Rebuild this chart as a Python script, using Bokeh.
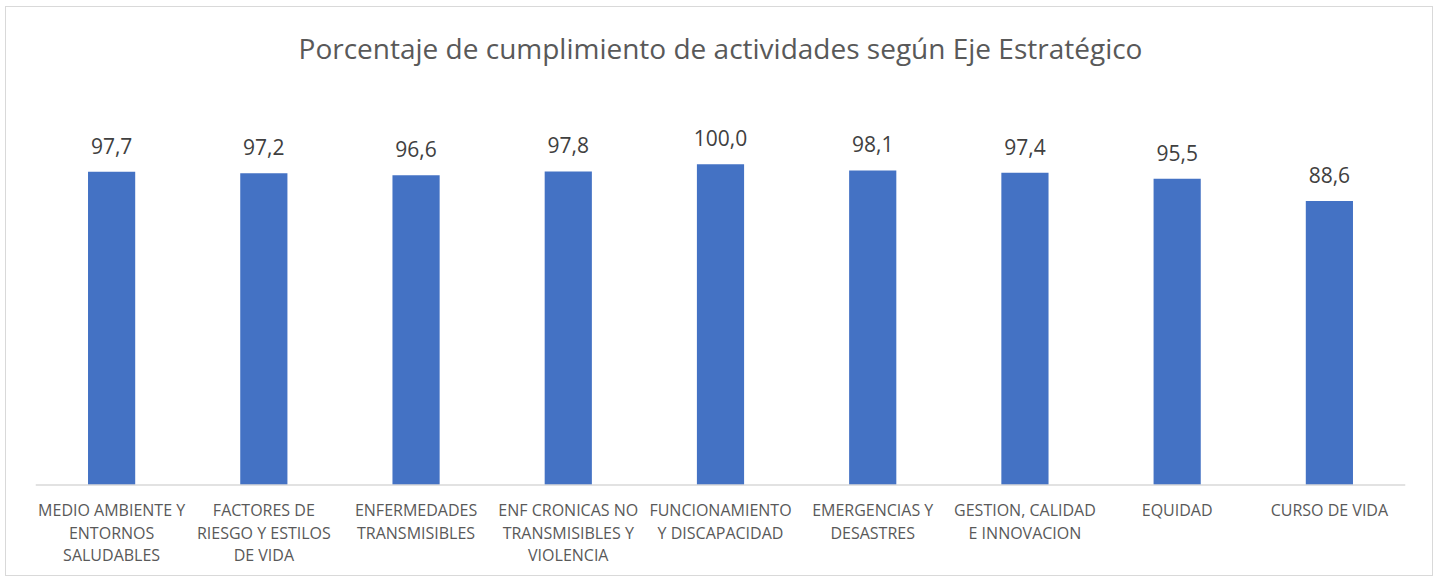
from bokeh.plotting import figure
from bokeh.models import ColumnDataSource, FactorRange, Range1d, Span
from bokeh.core.properties import value
from bokeh.embed import file_html
from bokeh.resources import INLINE

categories = ["MEDIO AMBIENTE Y ENTORNOS SALUDABLES", "FACTORES DE RIESGO Y ESTILOS DE VIDA",
              "ENFERMEDADES TRANSMISIBLES", "ENF CRONICAS NO TRANSMISIBLES Y VIOLENCIA",
              "FUNCIONAMIENTO Y DISCAPACIDAD", "EMERGENCIAS Y DESASTRES",
              "GESTION, CALIDAD E INNOVACION", "EQUIDAD", "CURSO DE VIDA"]
tick_labels = ["MEDIO AMBIENTE Y\nENTORNOS\nSALUDABLES", "FACTORES DE\nRIESGO Y ESTILOS\nDE VIDA",
               "ENFERMEDADES\nTRANSMISIBLES", "ENF CRONICAS NO\nTRANSMISIBLES Y\nVIOLENCIA",
               "FUNCIONAMIENTO\nY DISCAPACIDAD", "EMERGENCIAS Y\nDESASTRES",
               "GESTION, CALIDAD\nE INNOVACION", "EQUIDAD", "CURSO DE VIDA"]
values = [97.7, 97.2, 96.6, 97.8, 100.0, 98.1, 97.4, 95.5, 88.6]

labels = [f"{v:.1f}".replace(".", ",") for v in values]
source = ColumnDataSource(dict(cat=categories, val=values, lab=labels, tick=tick_labels,
                               zero=[0] * len(values)))

p = figure(width=1428, height=570, output_backend="svg", toolbar_location=None,
           x_range=FactorRange(*categories, range_padding=0), y_range=Range1d(-27, 124.6),
           min_border_left=29, min_border_right=29, min_border_top=10, min_border_bottom=6,
           margin=(6, 0, 0, 5),
           styles={"border": "1px solid #d9d9d9"})
p.outline_line_color = None
p.background_fill_color = "white"
p.border_fill_color = "white"

p.title.text = "Porcentaje de cumplimiento de actividades según Eje Estratégico"
p.title.align = "center"
p.title.text_font = "Open Sans"
p.title.text_font_size = "28px"
p.title.text_font_style = "normal"
p.title.text_color = "#595959"
p.title.standoff = 38

p.vbar(x="cat", top="val", width=0.31, source=source, fill_color="#4472C4", line_color=None)
p.text(x="cat", y="val", text="lab", source=source, text_align="center", text_baseline="alphabetic",
       y_offset=-26, text_font=value("Open Sans"), text_font_size="21px", text_color="#404040")
p.text(x="cat", y="zero", text="tick", source=source, text_align="center", text_baseline="top",
       y_offset=14, text_font=value("Open Sans"), text_font_size="16px", text_color="#595959",
       text_line_height=1.03)

p.add_layout(Span(location=0, dimension="width", line_color="#d9d9d9", line_width=1.5))

p.xaxis.visible = False
p.yaxis.visible = False
p.xgrid.grid_line_color = None
p.ygrid.grid_line_color = None

open("out.html", "w").write(file_html(p, INLINE))
